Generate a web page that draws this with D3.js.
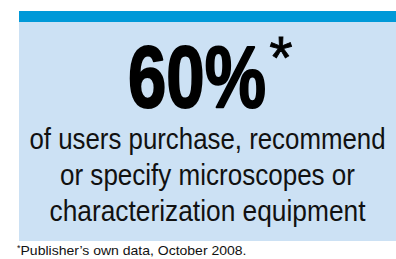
<!DOCTYPE html>
<html>
<head>
<meta charset="utf-8">
<script src="https://cdn.jsdelivr.net/npm/d3@7"></script>
<style>
  html, body { margin: 0; padding: 0; background: #fff; }
</style>
</head>
<body>
<div id="chart"></div>
<script>
// figures shown in the callout
const statValue = [60];
const statUnit = ['%'];
const statMark = ['*'];
const bodyLines = [
    'of users purchase, recommend',
    'or specify microscopes or',
    'characterization equipment'
];
// measured widths of each body line in the reference
const bodyWidths = [356, 295, 316];
const footnote = ['*', 'Publisher\u2019s own data, October 2008.'];

const width = 396;
const height = 259;
const box = { left: 19, top: 11, right: 396, bottom: 241, bar: 11 };
const font = '"Liberation Sans", Arial, sans-serif';

const svg = d3.select('#chart').append('svg')
    .attr('width', width)
    .attr('height', height);

// background panel + top rule
svg.append('rect')
    .attr('x', box.left).attr('y', box.top)
    .attr('width', box.right - box.left).attr('height', box.bottom - box.top)
    .attr('fill', '#cce1f4');
svg.append('rect')
    .attr('x', box.left).attr('y', box.top)
    .attr('width', box.right - box.left).attr('height', box.bar)
    .attr('fill', '#0099d8');

const cx = (box.left + box.right) / 2;

// big number
svg.append('text')
    .attr('x', 197).attr('y', 107)
    .attr('text-anchor', 'middle')
    .attr('font-family', font)
    .attr('font-weight', 'bold')
    .attr('font-size', 88)
    .attr('fill', '#000')
    .attr('stroke', '#000')
    .attr('stroke-width', 2)
    .attr('stroke-linejoin', 'round')
    .attr('textLength', 138)
    .attr('lengthAdjust', 'spacingAndGlyphs')
    .text(statValue[0] + statUnit[0]);

svg.append('text')
    .attr('x', 281).attr('y', 78)
    .attr('text-anchor', 'middle')
    .attr('font-family', font)
    .attr('font-size', 60)
    .attr('fill', '#000')
    .attr('stroke', '#000')
    .attr('stroke-width', 0.8)
    .text(statMark[0]);

// body lines: one baseline every 36px
const y = d3.scaleLinear()
    .domain([0, bodyLines.length - 1])
    .range([149, 221]);

svg.selectAll('text.line')
    .data(bodyLines)
    .join('text')
    .attr('class', 'line')
    .attr('x', cx)
    .attr('y', (d, i) => y(i))
    .attr('text-anchor', 'middle')
    .attr('font-family', font)
    .attr('font-size', 29)
    .attr('fill', '#111')
    .attr('textLength', (d, i) => bodyWidths[i])
    .attr('lengthAdjust', 'spacingAndGlyphs')
    .text(d => d);

// footnote
const fn = svg.append('text')
    .attr('x', 17).attr('y', 255)
    .attr('font-family', font)
    .attr('font-size', 13)
    .attr('fill', '#111');
fn.append('tspan').attr('font-size', 9).attr('dy', -4).text(footnote[0]);
fn.append('tspan').attr('dy', 4)
    .attr('textLength', 226)
    .attr('lengthAdjust', 'spacingAndGlyphs')
    .text(footnote[1]);
</script>
</body>
</html>
